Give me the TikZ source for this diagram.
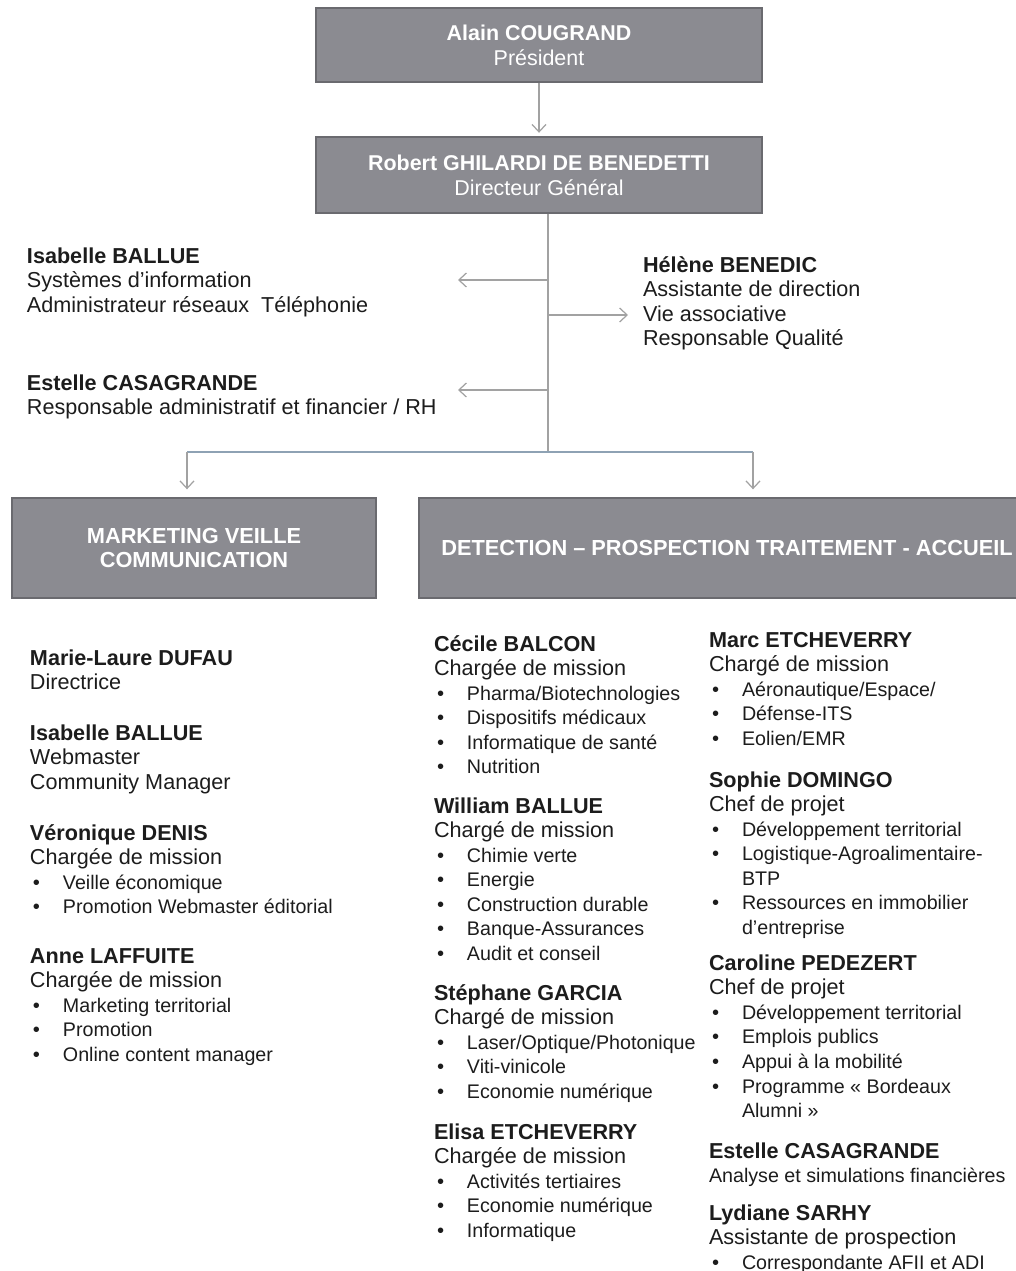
\documentclass[tikz,border=0pt]{standalone}
\usepackage{fontspec}
\setmainfont{Liberation Sans}
\usetikzlibrary{arrows.meta}
\definecolor{boxGray}{HTML}{8B8B91}
\definecolor{boxEdge}{HTML}{6A6A6F}
\definecolor{linkGray}{HTML}{A2A2A2}
\definecolor{linkBlue}{HTML}{8EA2B4}
\definecolor{inkDark}{HTML}{1C1C1C}
\tikzset{
    unitbox/.style={draw=boxEdge, fill=boxGray, line width=0.8pt, text=white, align=center, inner sep=0pt,
        font=\fontsize{12.2}{14.2}\selectfont\bfseries},
    staff/.style={anchor=north west, inner sep=0pt, outer sep=0pt, align=left, text=inkDark, yshift=12pt,
        font=\fontsize{12.3}{14}\selectfont},
    link/.style={draw=linkGray, line width=0.7pt, -{Straight Barb[length=1.5mm,width=2.8mm]}},
    branch/.style={draw=linkBlue, line width=0.8pt}
}
\AtBeginDocument{\lineskiplimit=-30pt\relax}
\newcommand\who[1]{\rule{0pt}{12pt}\textbf{#1}}
\newcommand\itm[1]{\makebox[0.66cm][l]{\hspace{0.06cm}\fontsize{11.5}{14}\selectfont •}{\fontsize{11.2}{14}\selectfont #1}}
\newcommand\itc[1]{\hspace*{0.66cm}{\fontsize{11.2}{14}\selectfont #1}}

\begin{document}
\begin{tikzpicture}[x=0.02cm, y=-0.02cm]
  % page frame (pixels of the original sheet)
  \useasboundingbox (0,0) rectangle (1016,1271);

  % head of the organisation
  \node[unitbox, minimum width=8.92cm, minimum height=1.48cm] (pres) at (539,45)
    {Alain COUGRAND\\{\mdseries Président}};
  \node[unitbox, minimum width=8.92cm, minimum height=1.52cm] (dg) at (539,175)
    {Robert GHILARDI DE BENEDETTI\\{\mdseries Directeur Général}};
  \draw[link, shorten >=2pt] (pres) -- (dg);

  % trunk and side posts
  \coordinate (hub)    at (548,452);
  \coordinate (tapIsa) at (548,280);
  \coordinate (endIsa) at (458,280);
  \coordinate (tapBen) at (548,315);
  \coordinate (endBen) at (628,315);
  \coordinate (tapCas) at (548,390);
  \coordinate (endCas) at (458,390);
  \draw[draw=linkGray, line width=0.7pt] (dg.south -| hub) -- (hub);
  \draw[link] (tapIsa) -- (endIsa);
  \draw[link] (tapBen) -- (endBen);
  \draw[link] (tapCas) -- (endCas);

  \node[staff] (isabelle) at (27,263)
    {\who{Isabelle BALLUE}\\ Systèmes d'information\\ Administrateur réseaux~~Téléphonie};
  \node[staff] (casagrande) at (27,390)
    {\who{Estelle CASAGRANDE}\\ Responsable administratif et financier / RH};
  \node[staff] (benedic) at (643,272)
    {\who{Hélène BENEDIC}\\ Assistante de direction\\ Vie associative\\ Responsable Qualité};

  % the two departments
  \node[unitbox, minimum width=7.28cm, minimum height=2cm, font=\fontsize{12.4}{14.2}\selectfont\bfseries] (mkt) at (194,548)
    {MARKETING VEILLE\\COMMUNICATION};
  \node[unitbox, minimum width=12.32cm, minimum height=2cm, font=\fontsize{12.4}{14.2}\selectfont\bfseries] (det) at (727,548)
    {DETECTION – PROSPECTION TRAITEMENT - ACCUEIL};

  \coordinate (lsplit) at (187,452);
  \coordinate (rsplit) at (753,452);
  \draw[branch] (lsplit) -- (rsplit);
  \draw[link, shorten >=0.16cm] (lsplit) -- (mkt.north -| lsplit);
  \draw[link, shorten >=0.16cm] (rsplit) -- (det.north -| rsplit);

  % marketing team
  \node[staff] (dufau) at (30,665)
    {\who{Marie-Laure DUFAU}\\ Directrice};
  \node[staff] (ballueI) at (30,740)
    {\who{Isabelle BALLUE}\\ Webmaster\\ Community Manager};
  \node[staff] (denis) at (30,840)
    {\who{Véronique DENIS}\\ Chargée de mission\\ \itm{Veille économique}\\ \itm{Promotion Webmaster éditorial}};
  \node[staff] (laffuite) at (30,963)
    {\who{Anne LAFFUITE}\\ Chargée de mission\\ \itm{Marketing territorial}\\ \itm{Promotion}\\ \itm{Online content manager}};

  % detection team, first column
  \node[staff] (balcon) at (434,651)
    {\who{Cécile BALCON}\\ Chargée de mission\\ \itm{Pharma/Biotechnologies}\\ \itm{Dispositifs médicaux}\\
     \itm{Informatique de santé}\\ \itm{Nutrition}};
  \node[staff] (ballueW) at (434,813)
    {\who{William BALLUE}\\ Chargé de mission\\ \itm{Chimie verte}\\ \itm{Energie}\\ \itm{Construction durable}\\
     \itm{Banque-Assurances}\\ \itm{Audit et conseil}};
  \node[staff] (garcia) at (434,1000)
    {\who{Stéphane GARCIA}\\ Chargé de mission\\ \itm{Laser/Optique/Photonique}\\ \itm{Viti-vinicole}\\ \itm{Economie numérique}};
  \node[staff] (etcheverryE) at (434,1139)
    {\who{Elisa ETCHEVERRY}\\ Chargée de mission\\ \itm{Activités tertiaires}\\ \itm{Economie numérique}\\ \itm{Informatique}};

  % detection team, second column
  \node[staff] (etcheverryM) at (709,647)
    {\who{Marc ETCHEVERRY}\\ Chargé de mission\\ \itm{Aéronautique/Espace/}\\ \itm{Défense-ITS}\\ \itm{Eolien/EMR}};
  \node[staff] (domingo) at (709,787)
    {\who{Sophie DOMINGO}\\ Chef de projet\\ \itm{Développement territorial}\\ \itm{Logistique-Agroalimentaire-}\\ \itc{BTP}\\
     \itm{Ressources en immobilier}\\ \itc{d'entreprise}};
  \node[staff] (pedezert) at (709,970)
    {\who{Caroline PEDEZERT}\\ Chef de projet\\ \itm{Développement territorial}\\ \itm{Emplois publics}\\ \itm{Appui à la mobilité}\\
     \itm{Programme « Bordeaux}\\ \itc{Alumni »}};
  \node[staff] (casagrandeB) at (709,1158)
    {\who{Estelle CASAGRANDE}\\ {\fontsize{11.2}{14}\selectfont Analyse et simulations financières}};
  \node[staff] (sarhy) at (709,1220)
    {\who{Lydiane SARHY}\\ Assistante de prospection\\ \itm{Correspondante AFII et ADI}};
\end{tikzpicture}
\end{document}
